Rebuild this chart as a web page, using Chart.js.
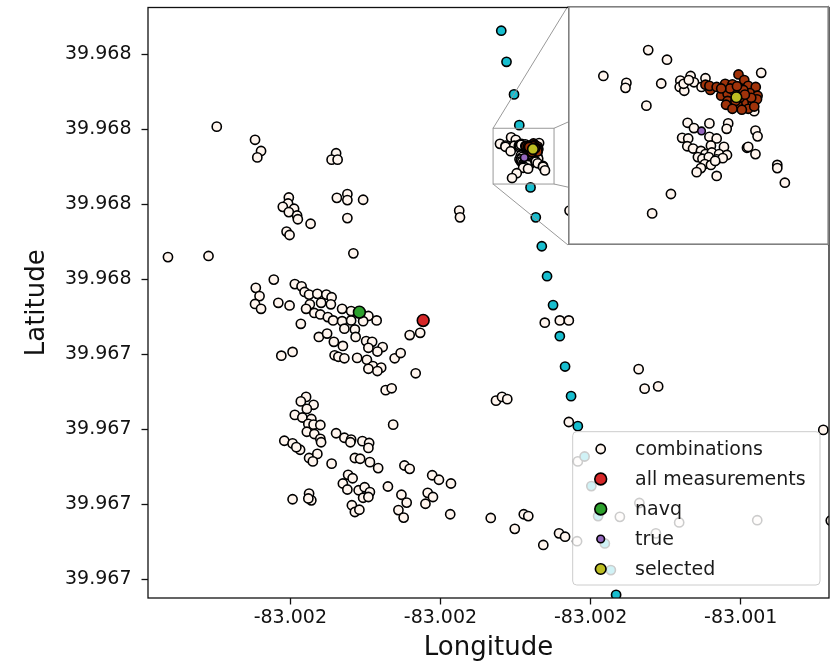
<!DOCTYPE html>
<html><head><meta charset="utf-8">
<script src="https://cdn.jsdelivr.net/npm/chart.js@4/dist/chart.umd.min.js"></script>
<style>
html,body{margin:0;padding:0;background:#fff;}
#wrap{position:relative;width:838px;height:666px;overflow:hidden;}
#main{position:absolute;left:0;top:0;}
#inset{position:absolute;left:568px;top:6px;}
</style></head><body>
<div id="wrap">
<canvas id="main" width="838" height="666"></canvas>
<canvas id="inset" width="261" height="239"></canvas>
</div>
<script>
// ---------- axes / ticks ----------
const xTickValues = [-83.0020, -83.0018, -83.0016, -83.0014];
const xTickLabels = ['-83.002', '-83.002', '-83.002', '-83.001'];
const yTickValues = [39.9668, 39.9670, 39.9672, 39.9674, 39.9676, 39.9678, 39.9680, 39.9682];
const yTickLabels = ['39.967', '39.967', '39.967', '39.967', '39.968', '39.968', '39.968', '39.968'];
const lonRange = [-83.0021896, -83.0012824];
const latRange = [39.9667495, 39.9683249];
const insetLonRange = [-83.0017299, -83.0016487];
const insetLatRange = [39.9678539, 39.9680027];

// ---------- data ----------
const combLon = [
-83.002098,-83.002047,-83.002039,-83.002044,-83.001939,-83.001945,-83.001937,-83.002002,-83.002003,-83.002010,
-83.001995,-83.002002,-83.001991,-83.001990,-83.001973,-83.002005,-83.002001,-83.001938,-83.001924,-83.001924,
-83.001903,-83.001924,-83.001916,-83.001775,-83.001774,-83.002163,-83.002109,-83.002022,-83.002046,-83.002041,
-83.002047,-83.002039,-83.002016,-83.002001,-83.001994,-83.001985,-83.001981,-83.001975,-83.001964,-83.001952,
-83.001945,-83.001974,-83.001959,-83.001946,-83.001979,-83.001968,-83.001960,-83.001950,-83.001943,-83.001931,
-83.001919,-83.001931,-83.001919,-83.001896,-83.001885,-83.001903,-83.001928,-83.001914,-83.001913,-83.001986,
-83.001962,-83.001951,-83.001942,-83.001930,-83.001899,-83.001891,-83.001877,-83.001896,-83.001884,-83.001941,
-83.001936,-83.001928,-83.001911,-83.001898,-83.001890,-83.001879,-83.001896,-83.001884,-83.002012,-83.001997,
-83.001861,-83.001853,-83.001841,-83.001827,-83.001833,-83.001873,-83.001865,-83.001863,-83.001979,-83.001986,
-83.001969,-83.001978,-83.001994,-83.001984,-83.001972,-83.001976,-83.001969,-83.001960,-83.001978,-83.001968,
-83.001960,-83.001959,-83.002008,-83.001997,-83.001987,-83.001992,-83.001975,-83.001964,-83.001970,-83.001945,
-83.001939,-83.001928,-83.001919,-83.001920,-83.001904,-83.001895,-83.001896,-83.001914,-83.001907,-83.001894,
-83.001883,-83.001848,-83.001841,-83.001923,-83.001917,-83.001930,-83.001924,-83.001909,-83.001901,-83.001894,
-83.001903,-83.001896,-83.001918,-83.001914,-83.001908,-83.001870,-83.001852,-83.001845,-83.001856,-83.001849,
-83.001811,-83.001802,-83.001786,-83.001817,-83.001810,-83.001820,-83.001787,-83.001997,-83.001975,-83.001972,
-83.001976,-83.001733,-83.001701,-83.001689,-83.001683,-83.001663,-83.001642,-83.001634,-83.001618,-83.001617,
-83.001726,-83.001718,-83.001711,-83.001661,-83.001641,-83.001629,-83.001629,-83.001536,-83.001528,-83.001510,
-83.001290,-83.001535,-83.001561,-83.001482,-83.001378,-83.001513,-83.001280,-83.001628,
-83.0017059,-83.0016997,-83.0017207,-83.0017131,-83.0017134,-83.0017016,-83.0017065,-83.0016953,-83.0016919,-83.0016908,
-83.0016955,-83.0016940,-83.0016870,-83.0016883,-83.0016686,-83.0016709,-83.0016929,-83.0016857,-83.0016908,-83.0016795,
-83.0016800,-83.0016705,-83.0016698,-83.0016947,-83.0016927,-83.0016857,-83.0016833,-83.0016930,-83.0016911,-83.0016852,
-83.0016809,-83.0016885,-83.0016870,-83.0016849,-83.0016825,-83.0016799,-83.0016895,-83.0016880,-83.0016859,-83.0016833,
-83.0016813,-83.0016872,-83.0016852,-83.0016838,-83.0016885,-83.0016899,-83.0016833,-83.0016733,-83.0016729,-83.0016705,
-83.0016633,-83.0016633,-83.0016608,-83.0016984,-83.0017046,-83.0016942,-83.0016925
];
const combLat = [
39.968007,39.967972,39.967942,39.967925,39.967936,39.967919,39.967919,39.967818,39.967802,39.967793,
39.967788,39.967779,39.967770,39.967760,39.967748,39.967727,39.967718,39.967817,39.967827,39.967811,
39.967812,39.967763,39.967669,39.967783,39.967765,39.967659,39.967662,39.967599,39.967577,39.967555,
39.967534,39.967521,39.967537,39.967530,39.967587,39.967581,39.967566,39.967559,39.967561,39.967559,
39.967552,39.967533,39.967537,39.967533,39.967521,39.967510,39.967506,39.967499,39.967490,39.967521,
39.967515,39.967488,39.967490,39.967502,39.967490,39.967488,39.967468,39.967466,39.967446,39.967481,
39.967446,39.967455,39.967433,39.967422,39.967435,39.967433,39.967419,39.967417,39.967407,39.967397,
39.967393,39.967389,39.967390,39.967385,39.967368,39.967364,39.967361,39.967355,39.967396,39.967406,
39.967389,39.967403,39.967451,39.967457,39.967349,39.967304,39.967309,39.967212,39.967286,39.967274,
39.967265,39.967254,39.967238,39.967231,39.967227,39.967214,39.967212,39.967211,39.967193,39.967187,
39.967174,39.967165,39.967169,39.967162,39.967145,39.967152,39.967123,39.967134,39.967114,39.967108,
39.967189,39.967177,39.967172,39.967165,39.967168,39.967163,39.967150,39.967123,39.967121,39.967112,
39.967096,39.967103,39.967094,39.967078,39.967069,39.967055,39.967039,39.967037,39.967045,39.967032,
39.967017,39.967019,39.966997,39.966979,39.966985,39.967047,39.967025,39.967004,39.966984,39.966964,
39.967077,39.967065,39.967055,39.967030,39.967019,39.967001,39.966973,39.967013,39.967028,39.967010,
39.967015,39.966963,39.966934,39.966973,39.966968,39.966891,39.966922,39.966913,39.966901,39.967114,
39.967276,39.967286,39.967280,39.967484,39.967490,39.967490,39.967219,39.967360,39.967308,39.967314,
39.967198,39.967003,39.966966,39.966951,39.966957,39.966922,39.966956,39.967783,
39.9679784,39.9679720,39.9679612,39.9679566,39.9679533,39.9679562,39.9679415,39.9679581,39.9679612,39.9679570,
39.9679539,39.9679514,39.9679597,39.9679539,39.9679633,39.9679378,39.9679301,39.9679297,39.9679266,39.9679297,
39.9679261,39.9679249,39.9679211,39.9679201,39.9679197,39.9679208,39.9679197,39.9679145,39.9679130,39.9679149,
39.9679141,39.9679114,39.9679093,39.9679104,39.9679093,39.9679087,39.9679073,39.9679062,39.9679073,39.9679058,
39.9679066,39.9679027,39.9679021,39.9679048,39.9679000,39.9678973,39.9678948,39.9679135,39.9679141,39.9679093,
39.9679021,39.9679000,39.9678903,39.9678828,39.9678699,39.9679560,39.9679585
];
const clusterLon = [
-83.0016761,-83.0016742,-83.0016805,-83.0016781,-83.0016729,-83.0016704,-83.0016870,-83.0016854,-83.0016857,-83.0016818,
-83.0016797,-83.0016797,-83.0016781,-83.0016755,-83.0016735,-83.0016724,-83.0016698,-83.0016714,-83.0016700,-83.0016729,
-83.0016750,-83.0016802,-83.0016776,-83.0016745,-83.0016757,-83.0016771,-83.0016719,-83.0016789,-83.0016766,-83.0016833,
-83.0016709,-83.0016781,-83.0016818,-83.0016740
];
const clusterLat = [
39.9679622,39.9679585,39.9679560,39.9679556,39.9679546,39.9679539,39.9679554,39.9679519,39.9679546,39.9679481,
39.9679494,39.9679446,39.9679415,39.9679415,39.9679435,39.9679498,39.9679481,39.9679435,39.9679457,39.9679394,
39.9679388,39.9679421,39.9679514,39.9679519,39.9679467,39.9679446,39.9679467,39.9679529,39.9679544,39.9679539,
39.9679409,39.9679394,39.9679529,39.9679488
];
const trackLon = [-83.001719,-83.001712,-83.001702,-83.001695,-83.001680,-83.001673,-83.001665,-83.001658,-83.001650,-83.001641,
-83.001634,-83.001626,-83.001617,-83.001608,-83.001599,-83.001590,-83.001581,-83.001573,-83.001566];
const trackLat = [39.968263,39.968180,39.968093,39.968011,39.967845,39.967765,39.967688,39.967608,39.967531,39.967448,
39.967367,39.967288,39.967208,39.967127,39.967048,39.966968,39.966895,39.966824,39.966758];
const measLon = [-83.001823];
const measLat = [39.967490];
const navqLon = [-83.001908];
const navqLat = [39.967512];
const trueLon = [-83.0016883];
const trueLat = [39.9679247];
const selLon = [-83.0016768];
const selLat = [39.9679471];

const legendOrder = ['combinations', 'all measurements', 'navq', 'true', 'selected'];

// ---------- build ----------
const pts = (xs, ys) => xs.map((x, i) => ({x: x, y: ys[i]}));
const FONT = 'DejaVu Sans';
Chart.defaults.font.family = FONT;

function ds(label, xs, ys, color, r, order) {
  return {label: label, data: pts(xs, ys), backgroundColor: color, borderColor: '#000',
    borderWidth: 1.6, pointRadius: r, pointHoverRadius: r, showLine: false, order: order, clip: 0};
}
function makeSets() {
  return [
    ds('selected', selLon, selLat, '#bcbd22', 5.3, 1),
    ds('true', trueLon, trueLat, '#9467bd', 3.8, 2),
    ds('navq', navqLon, navqLat, '#2ca02c', 5.9, 3),
    ds('all measurements', measLon, measLat, '#d62728', 5.9, 4),
    ds('path', trackLon, trackLat, '#17becf', 4.6, 5),
    ds('cluster', clusterLon, clusterLat, '#a0330a', 4.6, 6),
    ds('combinations', combLon, combLat, '#fff5ee', 4.6, 7)
  ];
}

const INSET = {l: 568, t: 6, r: 829, b: 245};

const overlayPlugin = {
  id: 'overlay',
  afterDatasetsDraw(chart) {
    const {ctx, chartArea: ca, scales: {x, y}} = chart;
    const rx0 = x.getPixelForValue(insetLonRange[0]), rx1 = x.getPixelForValue(insetLonRange[1]);
    const ry0 = y.getPixelForValue(insetLatRange[1]), ry1 = y.getPixelForValue(insetLatRange[0]);
    ctx.save();
    ctx.strokeStyle = '#999';
    ctx.lineWidth = 1;
    ctx.strokeRect(rx0, ry0, rx1 - rx0, ry1 - ry0);
    ctx.beginPath();
    ctx.moveTo(rx0, ry0); ctx.lineTo(INSET.l, INSET.t);
    ctx.moveTo(rx1, ry0); ctx.lineTo(INSET.r, INSET.t);
    ctx.moveTo(rx0, ry1); ctx.lineTo(INSET.l, INSET.b);
    ctx.moveTo(rx1, ry1); ctx.lineTo(INSET.r, INSET.b);
    ctx.stroke();
    ctx.strokeStyle = '#111';
    ctx.lineWidth = 1.3;
    ctx.strokeRect(ca.left, ca.top, ca.right - ca.left, ca.bottom - ca.top);
    ctx.restore();
  },
  afterDraw(chart) {
    const ctx = chart.ctx;
    const bx = 572.7, by = 431.7, bw = 247.3, bh = 153.3, rr = 4;
    ctx.save();
    ctx.beginPath();
    ctx.moveTo(bx + rr, by);
    ctx.lineTo(bx + bw - rr, by); ctx.arcTo(bx + bw, by, bx + bw, by + rr, rr);
    ctx.lineTo(bx + bw, by + bh - rr); ctx.arcTo(bx + bw, by + bh, bx + bw - rr, by + bh, rr);
    ctx.lineTo(bx + rr, by + bh); ctx.arcTo(bx, by + bh, bx, by + bh - rr, rr);
    ctx.lineTo(bx, by + rr); ctx.arcTo(bx, by, bx + rr, by, rr);
    ctx.closePath();
    ctx.fillStyle = 'rgba(255,255,255,0.8)';
    ctx.fill();
    ctx.strokeStyle = '#cccccc';
    ctx.lineWidth = 1;
    ctx.stroke();
    legendOrder.forEach((lab, i) => {
      const d = chart.data.datasets.find(s => s.label === lab);
      const cy = 449 + i * 30;
      ctx.beginPath();
      ctx.arc(600.7, cy, d.pointRadius, 0, Math.PI * 2);
      ctx.fillStyle = d.backgroundColor;
      ctx.fill();
      ctx.lineWidth = 1.6;
      ctx.strokeStyle = '#000';
      ctx.stroke();
      ctx.font = '19px "' + FONT + '"';
      ctx.fillStyle = '#1a1a1a';
      ctx.textAlign = 'left';
      ctx.textBaseline = 'alphabetic';
      ctx.fillText(lab, 635, 455 + i * 30);
    });
    ctx.restore();
  }
};

new Chart(document.getElementById('main'), {
  type: 'scatter',
  data: {datasets: makeSets()},
  options: {
    responsive: false, animation: false, devicePixelRatio: 1, events: [],
    layout: {padding: {left: 0, top: 5, right: 9, bottom: 0}},
    plugins: {legend: {display: false}, tooltip: {enabled: false}},
    scales: {
      x: {
        type: 'linear', min: lonRange[0], max: lonRange[1],
        afterBuildTicks: s => { s.ticks = xTickValues.map(v => ({value: v})); },
        afterFit: s => { s.height = 68; s.paddingLeft = 0; s.paddingRight = 0; },
        ticks: {callback: (v, i) => xTickLabels[i], font: {family: FONT, size: 19}, color: '#111',
          padding: 2, maxRotation: 0, autoSkip: false},
        grid: {display: true, drawOnChartArea: false, drawTicks: true, tickLength: 6.5, tickColor: '#111', tickWidth: 1.3},
        border: {display: false},
        title: {display: true, text: 'Longitude', font: {family: FONT, size: 26}, color: '#111', padding: {top: 0, bottom: 2}}
      },
      y: {
        type: 'linear', min: latRange[0], max: latRange[1],
        afterBuildTicks: s => { s.ticks = yTickValues.map(v => ({value: v})); },
        afterFit: s => { s.width = 148; s.paddingTop = 0; s.paddingBottom = 0; },
        ticks: {callback: (v, i) => yTickLabels[i], font: {family: FONT, size: 19}, color: '#111',
          padding: 10, autoSkip: false},
        grid: {display: true, drawOnChartArea: false, drawTicks: true, tickLength: 6.5, tickColor: '#111', tickWidth: 1.3},
        border: {display: false},
        title: {display: true, text: 'Latitude', font: {family: FONT, size: 26}, color: '#111', padding: {top: 22, bottom: 0}}
      }
    }
  },
  plugins: [overlayPlugin]
});

const insetPlugin = {
  id: 'insetFrame',
  beforeDraw(chart) {
    const ctx = chart.ctx;
    ctx.save(); ctx.fillStyle = '#fff'; ctx.fillRect(0, 0, chart.width, chart.height); ctx.restore();
  },
  afterDraw(chart) {
    const ctx = chart.ctx;
    ctx.save(); ctx.strokeStyle = '#808080'; ctx.lineWidth = 1.6;
    ctx.strokeRect(0.8, 0.8, chart.width - 1.6, chart.height - 1.6); ctx.restore();
  }
};

new Chart(document.getElementById('inset'), {
  type: 'scatter',
  data: {datasets: makeSets()},
  options: {
    responsive: false, animation: false, devicePixelRatio: 1, events: [],
    layout: {padding: 0},
    plugins: {legend: {display: false}, tooltip: {enabled: false}},
    scales: {
      x: {type: 'linear', display: false, min: insetLonRange[0], max: insetLonRange[1]},
      y: {type: 'linear', display: false, min: insetLatRange[0], max: insetLatRange[1]}
    }
  },
  plugins: [insetPlugin]
});
</script></body></html>
